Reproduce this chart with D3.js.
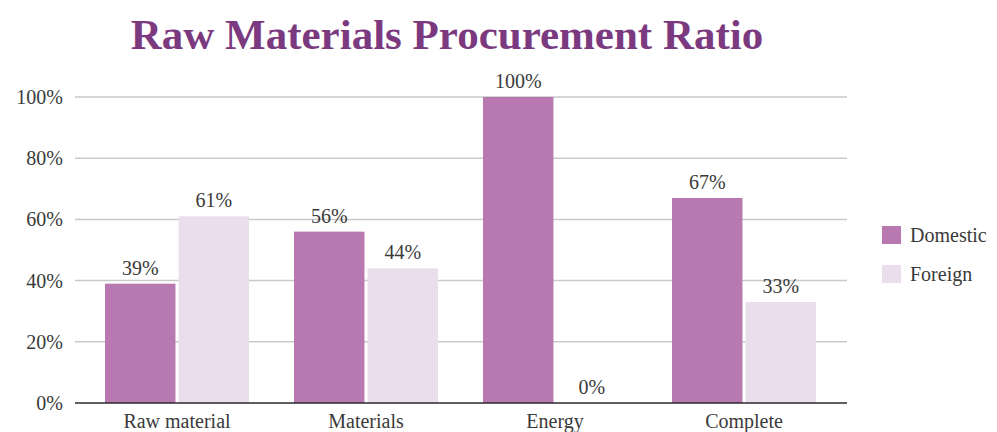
<!DOCTYPE html>
<html>
<head>
<meta charset="utf-8">
<script src="https://cdn.jsdelivr.net/npm/d3@7"></script>
<style>
  html, body { margin: 0; padding: 0; background: #ffffff; }
  svg { display: block; }
  svg text { font-family: "Liberation Serif", "DejaVu Serif", serif !important; }
</style>
</head>
<body>
<svg id="chart" width="997" height="432"></svg>
<script>
// Procurement share by category, in percent
const categories = ["Raw material", "Materials", "Energy", "Complete"];
const seriesNames = ["Domestic", "Foreign"];
const domestic = [39, 56, 100, 67];
const foreign = [61, 44, 0, 33];
const yTicks = [0, 20, 40, 60, 80, 100];

const colors = { Domestic: "#b879b0", Foreign: "#eadeed" };
const textColor = "#3a3a3a";

const svg = d3.select("#chart");

const plot = { left: 82.5, right: 838.5, top: 97, bottom: 403 };

const x = d3.scaleBand().domain(categories).range([plot.left, plot.right]).paddingInner(0).paddingOuter(0);
const x1 = d3.scaleBand().domain(seriesNames).range([22.5, x.bandwidth() - 22.5]).paddingInner(6 / 144);
const y = d3.scaleLinear().domain([0, 100]).range([plot.bottom, plot.top]);

// Title
svg.append("text")
  .attr("x", 447).attr("y", 49)
  .attr("text-anchor", "middle")
  .attr("font-size", 43).attr("font-weight", "bold")
  .attr("fill", "#7b3a7f")
  .text("Raw Materials Procurement Ratio");

// Gridlines
svg.append("g").selectAll("line")
  .data(yTicks.filter(t => t > 0))
  .join("line")
  .attr("x1", 75).attr("x2", 847)
  .attr("y1", d => y(d)).attr("y2", d => y(d))
  .attr("stroke", "#c9c9c9").attr("stroke-width", 1.5);

// Y axis labels
const yAxis = d3.axisLeft(y).tickValues(yTicks).tickFormat(d => d + "%").tickSize(0).tickPadding(0);
const gy = svg.append("g").attr("transform", "translate(63,0)").call(yAxis);
gy.select(".domain").remove();
gy.selectAll("text").attr("font-size", 20).attr("fill", textColor);

// Bars
const rows = categories.map((c, i) => ({ cat: c, values: [
  { key: "Domestic", v: domestic[i] },
  { key: "Foreign", v: foreign[i] }
]}));

const groups = svg.append("g").selectAll("g")
  .data(rows).join("g")
  .attr("transform", d => `translate(${x(d.cat)},0)`);

groups.selectAll("rect")
  .data(d => d.values).join("rect")
  .attr("x", d => x1(d.key))
  .attr("width", x1.bandwidth())
  .attr("y", d => y(d.v))
  .attr("height", d => y(0) - y(d.v))
  .attr("fill", d => colors[d.key]);

groups.selectAll("text.val")
  .data(d => d.values).join("text")
  .attr("class", "val")
  .attr("x", d => x1(d.key) + x1.bandwidth() / 2)
  .attr("y", d => y(d.v) - 9)
  .attr("text-anchor", "middle")
  .attr("font-size", 20).attr("fill", textColor)
  .text(d => d.v + "%");

// Baseline
svg.append("line")
  .attr("x1", 75).attr("x2", 847)
  .attr("y1", y(0)).attr("y2", y(0))
  .attr("stroke", "#2a2a2a").attr("stroke-width", 1.5);

// X axis labels
const xAxis = d3.axisBottom(x).tickSize(0).tickPadding(0);
const gx = svg.append("g").attr("transform", `translate(0,${y(0)})`).call(xAxis);
gx.select(".domain").remove();
gx.selectAll("text").attr("font-size", 20).attr("fill", textColor)
  .attr("dy", null).attr("y", 25);

// Legend
const legend = svg.append("g").attr("transform", "translate(882,226)");
const li = legend.selectAll("g").data(seriesNames).join("g")
  .attr("transform", (d, i) => `translate(0,${i * 39})`);
li.append("rect").attr("width", 19).attr("height", 18).attr("fill", d => colors[d]);
li.append("text").attr("x", 28).attr("y", 16)
  .attr("font-size", 20).attr("fill", textColor).text(d => d);
</script>
</body>
</html>
